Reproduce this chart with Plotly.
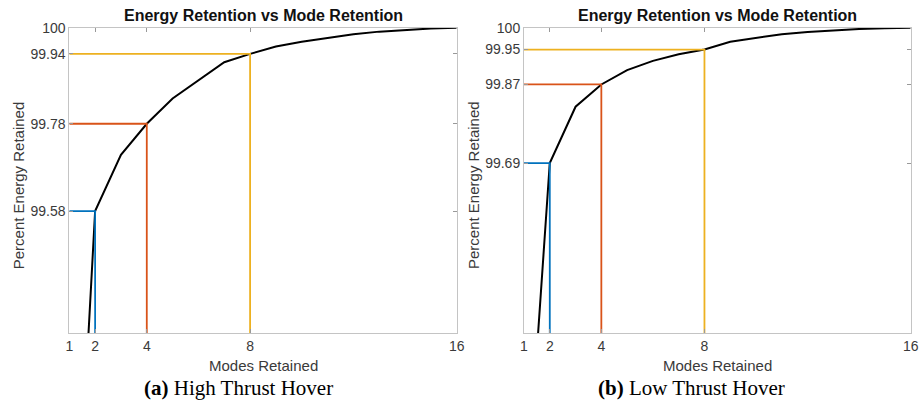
import plotly.graph_objects as go

modes = list(range(1, 17))
energy_high = [98.49, 99.58, 99.709, 99.78, 99.838, 99.88, 99.921, 99.94,
               99.957, 99.968, 99.977, 99.985, 99.991, 99.995, 99.998, 100.0]
energy_low = [98.83, 99.69, 99.819, 99.87, 99.903, 99.924, 99.939, 99.95,
              99.968, 99.977, 99.985, 99.990, 99.994, 99.997, 99.999, 100.0]

sel_modes = [2, 4, 8]
sel_high = [99.58, 99.78, 99.94]
sel_low = [99.69, 99.87, 99.95]
sel_colors = ["#0072BD", "#D95319", "#EDB120"]

x_ticks = [1, 2, 4, 8, 16]
y_ticks_high = [99.58, 99.78, 99.94, 100]
y_ticks_low = [99.69, 99.87, 99.95, 100]

x_range = [1, 16]
y_range = [99.3, 100]

title_text = "Energy Retention vs Mode Retention"
xlabel = "Modes Retained"
ylabel = "Percent Energy Retained"
captions = ["<b>(a)</b> High Thrust Hover", "<b>(b)</b> Low Thrust Hover"]

W, H = 922, 401
fig = go.Figure()

panels = [
    dict(xa="x", ya="y", energy=energy_high, sel=sel_high, yt=y_ticks_high,
         dom=[69.3 / W, 456.7 / W], cap_x=238.0),
    dict(xa="x2", ya="y2", energy=energy_low, sel=sel_low, yt=y_ticks_low,
         dom=[524.0 / W, 910.7 / W], cap_x=691.7),
]

ydom = [1 - 333.3 / H, 1 - 27.7 / H]
font_main = "Liberation Sans, Arial, Helvetica, sans-serif"
tick_color = "#3a3a3a"
axis_line = "#c4c4c4"

for i, p in enumerate(panels):
    fig.add_trace(go.Scatter(x=modes, y=p["energy"], mode="lines",
                             line=dict(color="black", width=2),
                             xaxis=p["xa"], yaxis=p["ya"], showlegend=False))
    for m, v, c in zip(sel_modes, p["sel"], sel_colors):
        fig.add_trace(go.Scatter(x=[x_range[0], m, m], y=[v, v, y_range[0]],
                                 mode="lines", line=dict(color=c, width=1.8),
                                 xaxis=p["xa"], yaxis=p["ya"], showlegend=False))
    suffix = "" if i == 0 else str(i + 1)
    fig.update_layout(**{
        "xaxis" + suffix: dict(
            domain=p["dom"], range=x_range, tickvals=x_ticks,
            ticktext=[str(t) for t in x_ticks], showgrid=False, zeroline=False,
            showline=True, linecolor=axis_line, linewidth=1, mirror="ticks",
            ticks="inside", ticklen=4, tickcolor="#999999", automargin=False,
            tickfont=dict(family=font_main, size=14, color=tick_color),
            anchor="y" + suffix,
        ),
        "yaxis" + suffix: dict(
            domain=ydom, range=y_range, tickvals=p["yt"],
            ticktext=[("%g" % t) if t == 100 else "%.2f" % t for t in p["yt"]],
            showgrid=False, zeroline=False,
            showline=True, linecolor=axis_line, linewidth=1, mirror="ticks",
            ticks="inside", ticklen=4, tickcolor="#999999", automargin=False,
            tickfont=dict(family=font_main, size=14, color=tick_color),
            anchor="x" + suffix,
        ),
    })

    cx = (p["dom"][0] + p["dom"][1]) / 2
    left_px = p["dom"][0] * W
    ann = [
        dict(text="<b>" + title_text + "</b>", x=cx, y=1 - 16 / H,
             font=dict(family=font_main, size=16, color="#111111")),
        dict(text=xlabel, x=cx, y=1 - 365 / H,
             font=dict(family=font_main, size=15, color="#3a3a3a")),
        dict(text=captions[i], x=p["cap_x"] / W, y=1 - 387.5 / H,
             font=dict(family="Liberation Serif, Times New Roman, serif", size=21,
                       color="black")),
        dict(text=ylabel, x=(left_px - 51) / W, y=1 - 185 / H, textangle=-90,
             font=dict(family=font_main, size=15, color="#3a3a3a")),
    ]
    for a in ann:
        fig.add_annotation(xref="paper", yref="paper", showarrow=False,
                           xanchor="center", yanchor="middle", **a)

fig.update_layout(width=W, height=H, margin=dict(l=0, r=0, t=0, b=0),
                  paper_bgcolor="white", plot_bgcolor="white",
                  showlegend=False)

fig.write_html("out.html")
